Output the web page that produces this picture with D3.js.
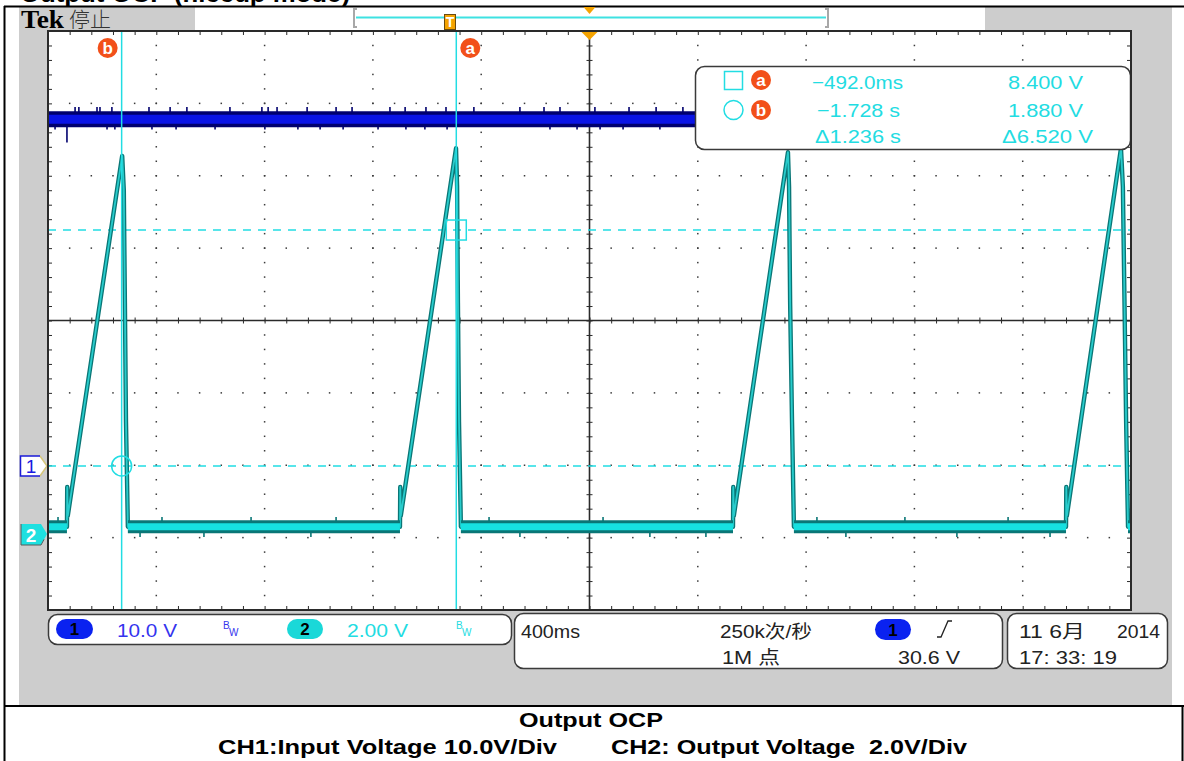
<!DOCTYPE html>
<html>
<head>
<meta charset="utf-8">
<script src="https://cdn.jsdelivr.net/npm/d3@7"></script>
<style>
  html, body { margin: 0; padding: 0; background: #fff; }
  svg { display: block; }
  text { font-family: "Liberation Sans", "Noto Sans CJK SC", sans-serif; }
</style>
</head>
<body>
<svg id="scope" width="1184" height="761"></svg>
<script>
// ---------------- acquisition settings ----------------
const secPerDiv = 0.4;            // 400 ms/div
const ch1VoltsPerDiv = 10;        // CH1 10.0 V/div
const ch2VoltsPerDiv = 2;         // CH2 2.00 V/div
const ch1OffsetDiv = -2.01;       // CH1 ground marker position (div from centre)
const ch2OffsetDiv = -2.95;       // CH2 ground marker position (div from centre)

// ---------------- CH2: output voltage (hiccup ramps) ----------------
const ch2Time = [
  -2.000, -1.930, -1.929, -1.927, -1.726, -1.720, -1.716, -1.712, -1.705,
  -0.700, -0.699, -0.697, -0.493, -0.489, -0.486, -0.482, -0.475,
   0.530,  0.531,  0.533,  0.733,  0.737,  0.741,  0.748,  0.755,
   1.760,  1.761,  1.763,  1.963,  1.970,  1.976,  1.982,  1.989,
   2.000
];
const ch2Volts = [
  0.2, 0.2, 1.3, 0.5, 10.45, 9.5, 6.4, 3.1, 0.2,
  0.2, 1.3, 0.5, 10.66, 9.6, 6.4, 3.1, 0.2,
  0.2, 1.3, 0.5, 10.55, 9.6, 6.4, 3.1, 0.2,
  0.2, 1.3, 0.5, 10.66, 9.6, 6.4, 3.1, 0.2,
  0.2
];
// short noise excursions on the CH2 off-state level
const ch2GlitchTime  = [-1.963, -1.660, -1.579, -1.424, -1.250, -1.029, -0.936, -0.371, -0.257,
                         0.050, 0.223, 0.430, 0.840, 0.947, 1.165, 1.357, 1.546, 1.701];
const ch2GlitchVolts = [0.47, -0.08, 0.47, -0.08, 0.47, -0.08, 0.47, 0.47, -0.08,
                        0.47, -0.08, -0.08, 0.47, -0.08, 0.47, -0.08, 0.47, -0.08];

// ---------------- CH1: input voltage ----------------
const ch1Time  = [-2.000, 2.000];
const ch1Volts = [47.9, 47.9];
const ch1GlitchTime = [
  -1.900, -1.886, -1.819, -1.808, -1.764, -1.627, -1.549, -1.487, -1.328, -1.210, -1.187,
  -1.154, -1.043, -0.936, -0.877, -0.737, -0.681, -0.604, -0.530, -0.427, -0.257, -0.168,
  -0.109,  0.020,  0.146,  0.246,  0.345,
  -1.974, -1.930, -1.782, -1.753, -1.616, -1.527, -1.383, -1.199, -1.077, -0.995, -0.910,
  -0.781, -0.678, -0.608, -0.526, -0.146, -0.046,  0.039,  0.124,  0.260
];
const ch1GlitchVolts = [
  49.6, 49.6, 49.6, 49.6, 49.6, 49.6, 49.6, 49.6, 49.6, 49.6, 49.6,
  49.6, 49.6, 49.6, 49.6, 49.6, 49.6, 49.6, 49.6, 49.6, 49.6, 49.6,
  49.6, 49.6, 49.6, 49.6, 49.6,
  46.5, 44.7, 46.5, 46.5, 46.5, 46.5, 46.5, 46.5, 46.5, 46.5, 46.5,
  46.5, 46.5, 46.5, 46.5, 46.5, 46.5, 46.5, 46.5, 46.5
];

// ---------------- cursors (on CH2) ----------------
const cursorNames = ["a", "b"];
const cursorTime  = [-0.492, -1.728];
const cursorVolts = [8.400, 1.880];

// ---------------- status texts ----------------
const channelNames = ["1", "2"];
const channelScaleText = ["10.0 V", "2.00 V"];
const horizontalText = ["400ms", "250k次/秒", "1M 点"];
const triggerSource = "1";
const triggerLevelText = "30.6 V";
const dateText = ["11 6月", "2014", "17: 33: 19"];
const titleText = "Output OCP (hiccup mode)";
const captionTitle = "Output OCP";
const captionParts = ["CH1:Input Voltage 10.0V/Div", "CH2: Output Voltage  2.0V/Div"];

// ---------------- colours ----------------
const C = {
  bezel: "#cdcdcd", frame: "#2a2a2a", dot: "#3a3a3a",
  ch1Dark: "#00006e", ch1: "#0a14e6", ch1Text: "#3434ee",
  ch2Dark: "#0a7676", ch2: "#16e0e0", ch2Text: "#22dce2",
  cursor: "#22dde3", badge: "#f2501a", trig: "#f5a300"
};

const svg = d3.select("#scope");
const G = { x0: 48, x1: 1131, y0: 31, y1: 610 };

const x = d3.scaleLinear().domain([-5 * secPerDiv, 5 * secPerDiv]).range([G.x0, G.x1]);
const div = d3.scaleLinear().domain([-4, 4]).range([G.y1, G.y0]);
const y1 = d3.scaleLinear()
  .domain([(-4 - ch1OffsetDiv) * ch1VoltsPerDiv, (4 - ch1OffsetDiv) * ch1VoltsPerDiv])
  .range([G.y1, G.y0]);
const y2 = d3.scaleLinear()
  .domain([(-4 - ch2OffsetDiv) * ch2VoltsPerDiv, (4 - ch2OffsetDiv) * ch2VoltsPerDiv])
  .range([G.y1, G.y0]);

// ---------------- page frame ----------------
svg.append("text").attr("x", 20).attr("y", 2)
  .attr("font-size", 23).attr("font-weight", "bold")
  .attr("textLength", 330).attr("lengthAdjust", "spacingAndGlyphs")
  .text(titleText);

svg.append("rect").attr("x", 19).attr("y", 7).attr("width", 1153).attr("height", 698).attr("fill", C.bezel);
svg.append("rect").attr("x", 195).attr("y", 7).attr("width", 790).attr("height", 24).attr("fill", "#fff");
svg.append("line").attr("x1", 4).attr("x2", 1184).attr("y1", 6.5).attr("y2", 6.5).attr("stroke", "#000").attr("stroke-width", 2);
svg.append("line").attr("x1", 4.5).attr("x2", 4.5).attr("y1", 6).attr("y2", 761).attr("stroke", "#000").attr("stroke-width", 2);
svg.append("line").attr("x1", 4).attr("x2", 1184).attr("y1", 706).attr("y2", 706).attr("stroke", "#000").attr("stroke-width", 2);
svg.append("line").attr("x1", 1182.5).attr("x2", 1182.5).attr("y1", 706).attr("y2", 761).attr("stroke", "#000").attr("stroke-width", 2);

// caption
svg.append("text").attr("x", 591).attr("y", 727).attr("text-anchor", "middle")
  .attr("font-size", 21).attr("font-weight", "bold")
  .attr("textLength", 144).attr("lengthAdjust", "spacingAndGlyphs").text(captionTitle);
svg.append("text").attr("x", 218).attr("y", 754).attr("font-size", 21).attr("font-weight", "bold")
  .attr("textLength", 339).attr("lengthAdjust", "spacingAndGlyphs").text(captionParts[0]);
svg.append("text").attr("x", 611).attr("y", 754).attr("font-size", 21).attr("font-weight", "bold")
  .attr("textLength", 356).attr("lengthAdjust", "spacingAndGlyphs").style("white-space", "pre").text(captionParts[1]);

// ---------------- header: Tek / stopped, record bar ----------------
svg.append("text").attr("x", 21).attr("y", 28).style("font-family", "'Liberation Serif', 'DejaVu Serif', serif")
  .attr("font-weight", "bold").attr("font-size", 25).attr("textLength", 43).attr("lengthAdjust", "spacingAndGlyphs").text("Tek");
svg.append("text").attr("x", 69).attr("y", 27).style("font-family", "'Noto Sans CJK SC'")
  .style("font-weight", 300).attr("font-size", 21).attr("fill", "#333").text("停止");

const bar = svg.append("g");
bar.append("path").attr("d", "M357,9 L354,9 L354,27 L357,27").attr("fill", "none").attr("stroke", "#a8a8a8").attr("stroke-width", 2);
bar.append("path").attr("d", "M825,9 L828,9 L828,27 L825,27").attr("fill", "none").attr("stroke", "#a8a8a8").attr("stroke-width", 2);
bar.append("line").attr("x1", 356).attr("x2", 826).attr("y1", 17.5).attr("y2", 17.5).attr("stroke", "#3ee2e2").attr("stroke-width", 2);
bar.append("path").attr("d", `M${x(0) - 6},7 L${x(0) + 6},7 L${x(0)},14 Z`).attr("fill", C.trig);
bar.append("rect").attr("x", 444.5).attr("y", 14.5).attr("width", 11).attr("height", 15).attr("fill", C.trig).attr("stroke", "#6a4a10").attr("stroke-width", 1);
bar.append("text").attr("x", 450).attr("y", 27).attr("text-anchor", "middle").attr("font-size", 14).attr("font-weight", "bold").attr("fill", "#fff").text("T");

// ---------------- graticule ----------------
svg.append("rect").attr("x", G.x0).attr("y", G.y0).attr("width", G.x1 - G.x0).attr("height", G.y1 - G.y0).attr("fill", "#fff");

const minorT = d3.range(0, 51).map(i => -2 + i * secPerDiv / 5);
const minorD = d3.range(0, 41).map(i => -4 + i * 0.2);
const majorT = d3.range(1, 10).filter(i => i !== 5).map(i => -2 + i * secPerDiv);
const majorD = d3.range(1, 8).filter(j => j !== 4).map(j => -4 + j);

const dots = svg.append("g").attr("fill", C.dot);
majorT.forEach(t => minorD.forEach(d => {
  dots.append("rect").attr("x", x(t) - 0.75).attr("y", div(d) - 0.75).attr("width", 1.5).attr("height", 1.5);
}));
majorD.forEach(d => minorT.forEach(t => {
  dots.append("rect").attr("x", x(t) - 0.75).attr("y", div(d) - 0.75).attr("width", 1.5).attr("height", 1.5);
}));

function styleAxis(g) {
  g.select(".domain").remove();
  g.selectAll("text").remove();
  g.selectAll("line").attr("stroke", C.frame).attr("stroke-width", 1);
}
// centre cross with minor ticks
svg.append("line").attr("x1", G.x0).attr("x2", G.x1).attr("y1", div(0)).attr("y2", div(0)).attr("stroke", C.frame).attr("stroke-width", 1.6);
svg.append("line").attr("x1", x(0)).attr("x2", x(0)).attr("y1", G.y0).attr("y2", G.y1).attr("stroke", C.frame).attr("stroke-width", 1.6);
svg.append("g").attr("transform", `translate(0,${div(0) - 3})`)
  .call(d3.axisBottom(x).tickValues(minorT).tickSize(6)).call(styleAxis);
svg.append("g").attr("transform", `translate(${x(0) - 3},0)`)
  .call(d3.axisRight(div).tickValues(minorD).tickSize(6)).call(styleAxis);
// edge ticks
svg.append("g").attr("transform", `translate(0,${G.y0})`).call(d3.axisBottom(x).tickValues(minorT).tickSize(4)).call(styleAxis);
svg.append("g").attr("transform", `translate(0,${G.y1})`).call(d3.axisTop(x).tickValues(minorT).tickSize(4)).call(styleAxis);
svg.append("g").attr("transform", `translate(${G.x0},0)`).call(d3.axisRight(div).tickValues(minorD).tickSize(4)).call(styleAxis);
svg.append("g").attr("transform", `translate(${G.x1},0)`).call(d3.axisLeft(div).tickValues(minorD).tickSize(4)).call(styleAxis);

// ---------------- horizontal cursor lines ----------------
const cursorG = svg.append("g");
cursorVolts.forEach(v => {
  cursorG.append("line").attr("x1", G.x0).attr("x2", G.x1).attr("y1", y2(v)).attr("y2", y2(v))
    .attr("stroke", C.cursor).attr("stroke-width", 1.5).attr("stroke-dasharray", "8 7");
});

// ---------------- CH1 trace ----------------
const ch1 = ch1Time.map((t, i) => [t, ch1Volts[i]]);
const ch1Line = d3.line().x(d => x(d[0])).y(d => y1(d[1]));
const ch1G = svg.append("g");
ch1GlitchTime.forEach((t, i) => {
  ch1G.append("line").attr("x1", x(t)).attr("x2", x(t))
    .attr("y1", y1(ch1Volts[0])).attr("y2", y1(ch1GlitchVolts[i]))
    .attr("stroke", C.ch1Dark).attr("stroke-width", 1.6);
});
ch1G.append("path").attr("d", ch1Line(ch1)).attr("fill", "none").attr("stroke", C.ch1Dark).attr("stroke-width", 16);
ch1G.append("path").attr("d", ch1Line(ch1)).attr("fill", "none").attr("stroke", C.ch1).attr("stroke-width", 9);

// ---------------- CH2 trace ----------------
const ch2 = ch2Time.map((t, i) => [t, ch2Volts[i]]);
const ch2Line = d3.line().x(d => x(d[0])).y(d => y2(d[1]));
const ch2G = svg.append("g");
ch2GlitchTime.forEach((t, i) => {
  ch2G.append("line").attr("x1", x(t)).attr("x2", x(t))
    .attr("y1", y2(ch2Volts[0])).attr("y2", y2(ch2GlitchVolts[i]))
    .attr("stroke", C.ch2Dark).attr("stroke-width", 1.6);
});
// off-state level: consecutive samples that both sit at the floor form a thick noise band
const floorSegs = [];
for (let i = 0; i < ch2.length - 1; i++) {
  if (ch2[i][1] < 0.3 && ch2[i + 1][1] < 0.3) floorSegs.push([ch2[i], ch2[i + 1]]);
}
ch2G.append("path").attr("d", ch2Line(ch2)).attr("fill", "none").attr("stroke", C.ch2Dark).attr("stroke-width", 4.4).attr("stroke-linejoin", "round");
ch2G.append("path").attr("d", ch2Line(ch2)).attr("fill", "none").attr("stroke", "#28cccc").attr("stroke-width", 1.8).attr("stroke-linejoin", "round");
floorSegs.forEach(s => {
  ch2G.append("path").attr("d", ch2Line(s)).attr("fill", "none").attr("stroke", C.ch2Dark).attr("stroke-width", 13);
  ch2G.append("path").attr("d", ch2Line(s)).attr("fill", "none").attr("stroke", C.ch2).attr("stroke-width", 7);
});

// ---------------- vertical cursors and markers ----------------
cursorTime.forEach((t, i) => {
  svg.append("line").attr("x1", x(t)).attr("x2", x(t)).attr("y1", G.y0).attr("y2", G.y1)
    .attr("stroke", C.cursor).attr("stroke-width", 1.5);
});
// cursor a: square, cursor b: circle
svg.append("rect").attr("x", x(cursorTime[0]) - 10).attr("y", y2(cursorVolts[0]) - 10)
  .attr("width", 20).attr("height", 20).attr("fill", "none").attr("stroke", C.cursor).attr("stroke-width", 1.5);
svg.append("circle").attr("cx", x(cursorTime[1])).attr("cy", y2(cursorVolts[1])).attr("r", 10)
  .attr("fill", "none").attr("stroke", C.cursor).attr("stroke-width", 1.5);

function badge(cx, cy, letter) {
  svg.append("circle").attr("cx", cx).attr("cy", cy).attr("r", 10).attr("fill", C.badge);
  svg.append("text").attr("x", cx).attr("y", cy + 5.5).attr("text-anchor", "middle")
    .attr("font-size", 17).attr("font-weight", "bold").attr("fill", "#fff").text(letter);
}
// a sits right of its cursor, b left of its cursor
badge(x(cursorTime[0]) + 14, 48, cursorNames[0]);
badge(x(cursorTime[1]) - 14, 48, cursorNames[1]);

// trigger position marker
svg.append("path").attr("d", `M${x(0) - 9},${G.y0} L${x(0) + 9},${G.y0} L${x(0)},${G.y0 + 9} Z`).attr("fill", C.trig);

// ---------------- cursor readout ----------------
const fmtT = t => (Math.abs(t) < 1 ? (t * 1000).toFixed(1) + "ms" : t.toFixed(3) + " s").replace("-", "−");
const fmtV = v => v.toFixed(3) + " V";
svg.append("rect").attr("x", 695.5).attr("y", 66.5).attr("width", 435).attr("height", 83).attr("rx", 9)
  .attr("fill", "#fff").attr("stroke", "#3a3a3a").attr("stroke-width", 1.5);
svg.append("rect").attr("x", 724.5).attr("y", 71.5).attr("width", 18).attr("height", 18)
  .attr("fill", "none").attr("stroke", C.cursor).attr("stroke-width", 1.5);
svg.append("circle").attr("cx", 733.5).attr("cy", 110).attr("r", 9.5)
  .attr("fill", "none").attr("stroke", C.cursor).attr("stroke-width", 1.5);
badge(761, 80, cursorNames[0]);
badge(761, 110, cursorNames[1]);
const readRows = [
  { t: fmtT(cursorTime[0]), v: fmtV(cursorVolts[0]), y: 89, tx: 812, tw: 91, vx: 1008, vw: 75 },
  { t: fmtT(cursorTime[1]), v: fmtV(cursorVolts[1]), y: 117, tx: 817, tw: 83, vx: 1008, vw: 75 },
  { t: "Δ" + fmtT(Math.abs(cursorTime[0] - cursorTime[1])), v: "Δ" + fmtV(Math.abs(cursorVolts[0] - cursorVolts[1])), y: 143, tx: 815, tw: 86, vx: 1002, vw: 91 }
];
readRows.forEach(r => {
  svg.append("text").attr("x", r.tx).attr("y", r.y).attr("font-size", 19).attr("fill", C.ch2Text)
    .attr("textLength", r.tw).attr("lengthAdjust", "spacingAndGlyphs").style("white-space", "pre").text(r.t);
  svg.append("text").attr("x", r.vx).attr("y", r.y).attr("font-size", 19).attr("fill", C.ch2Text)
    .attr("textLength", r.vw).attr("lengthAdjust", "spacingAndGlyphs").style("white-space", "pre").text(r.v);
});

// ---------------- channel ground markers ----------------
const m1y = div(ch1OffsetDiv), m2y = div(ch2OffsetDiv);
svg.append("path").attr("d", `M20,${m1y - 10} L40,${m1y - 10} L47,${m1y} L40,${m1y + 10} L20,${m1y + 10} Z`).attr("fill", "#fff");
svg.append("path").attr("d", `M40,${m1y - 10} L47,${m1y} L40,${m1y + 10}`).attr("fill", "none").attr("stroke", "#d6c67a").attr("stroke-width", 1.5);
svg.append("path").attr("d", `M40,${m1y - 10} L20.5,${m1y - 10} L20.5,${m1y + 10} L40,${m1y + 10}`).attr("fill", "none").attr("stroke", "#1a1ad8").attr("stroke-width", 1.5);
svg.append("text").attr("x", 31).attr("y", m1y + 7).attr("text-anchor", "middle").attr("font-size", 19).attr("fill", "#1a1ae0").text(channelNames[0]);

svg.append("path").attr("d", `M21,${m2y - 10} L41,${m2y - 10} L47,${m2y} L41,${m2y + 11} L21,${m2y + 11} Z`).attr("fill", "#1ee0e0")
  .attr("stroke", "#5a5a5a").attr("stroke-width", 1).attr("stroke-dasharray", `0 ${20 + 6 + 11.7} 200`);
svg.append("text").attr("x", 31).attr("y", m2y + 8).attr("text-anchor", "middle").attr("font-size", 19).attr("font-weight", "bold").attr("fill", "#fff").text(channelNames[1]);

// ---------------- status bar ----------------
function box(x0, y0, w, h) {
  svg.append("rect").attr("x", x0 + 0.5).attr("y", y0 + 0.5).attr("width", w).attr("height", h).attr("rx", 9)
    .attr("fill", "#fff").attr("stroke", "#3a3a3a").attr("stroke-width", 1.5);
}
function pill(x0, y0, w, h, fill, label) {
  svg.append("rect").attr("x", x0).attr("y", y0).attr("width", w).attr("height", h).attr("rx", h / 2).attr("fill", fill);
  svg.append("text").attr("x", x0 + w / 2).attr("y", y0 + h - 4).attr("text-anchor", "middle")
    .attr("font-size", 17).attr("font-weight", "bold").attr("fill", "#000").text(label);
}
function bw(x0, color) {
  svg.append("text").attr("x", x0).attr("y", 629).attr("font-size", 10).attr("fill", color).text("B");
  svg.append("text").attr("x", x0 + 6).attr("y", 636).attr("font-size", 10).attr("fill", color).text("W");
}
box(48, 614, 463, 30);
pill(56, 619, 37, 20, "#0a22f0", channelNames[0]);
svg.append("text").attr("x", 117).attr("y", 637).attr("font-size", 19).attr("fill", C.ch1Text)
  .attr("textLength", 60).attr("lengthAdjust", "spacingAndGlyphs").text(channelScaleText[0]);
bw(223, C.ch1Text);
pill(287, 619, 36, 20, "#1ad8d8", channelNames[1]);
svg.append("text").attr("x", 347).attr("y", 637).attr("font-size", 19).attr("fill", C.ch2Text)
  .attr("textLength", 61).attr("lengthAdjust", "spacingAndGlyphs").text(channelScaleText[1]);
bw(456, C.ch2Text);

box(514, 613, 488, 55);
svg.append("text").attr("x", 521).attr("y", 638).attr("font-size", 18).attr("fill", "#222")
  .attr("textLength", 59).attr("lengthAdjust", "spacingAndGlyphs").text(horizontalText[0]);
svg.append("text").attr("x", 720).attr("y", 638).attr("font-size", 18).attr("fill", "#222")
  .attr("textLength", 92).attr("lengthAdjust", "spacingAndGlyphs").text(horizontalText[1]);
svg.append("text").attr("x", 722).attr("y", 664).attr("font-size", 18).attr("fill", "#222")
  .attr("textLength", 58).attr("lengthAdjust", "spacingAndGlyphs").style("white-space", "pre").text(horizontalText[2]);
pill(875, 619, 36, 21, "#0a22f0", triggerSource);
svg.append("path").attr("d", "M937,637 L941,637 L948,621 L952,621").attr("fill", "none").attr("stroke", "#222").attr("stroke-width", 1.3);
svg.append("text").attr("x", 898).attr("y", 664).attr("font-size", 18).attr("fill", "#222")
  .attr("textLength", 62).attr("lengthAdjust", "spacingAndGlyphs").text(triggerLevelText);

box(1007, 613, 160, 55);
svg.append("text").attr("x", 1019).attr("y", 638).attr("font-size", 18).attr("fill", "#222")
  .attr("textLength", 66).attr("lengthAdjust", "spacingAndGlyphs").style("white-space", "pre").text(dateText[0]);
svg.append("text").attr("x", 1117).attr("y", 638).attr("font-size", 18).attr("fill", "#222")
  .attr("textLength", 43).attr("lengthAdjust", "spacingAndGlyphs").text(dateText[1]);
svg.append("text").attr("x", 1019).attr("y", 664).attr("font-size", 18).attr("fill", "#222")
  .attr("textLength", 98).attr("lengthAdjust", "spacingAndGlyphs").style("white-space", "pre").text(dateText[2]);

// graticule frame on top
svg.append("rect").attr("x", G.x0).attr("y", G.y0).attr("width", G.x1 - G.x0).attr("height", G.y1 - G.y0)
  .attr("fill", "none").attr("stroke", C.frame).attr("stroke-width", 2);
</script>
</body>
</html>
